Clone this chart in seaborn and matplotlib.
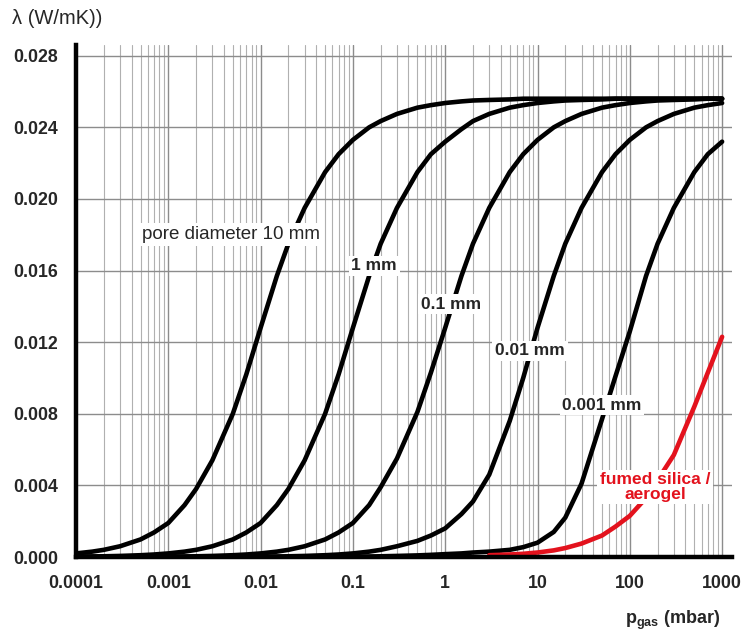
"""Gas thermal conductivity vs gas pressure for different pore diameters."""

import matplotlib
matplotlib.use("Agg")
import pandas as pd
import matplotlib.pyplot as plt
import seaborn as sns
from matplotlib.ticker import FixedLocator, FixedFormatter, LogLocator, NullFormatter

# pressure grid (mbar), shared by the pore-size curves
pressure_mbar = [
    0.0001, 0.00015, 0.0002, 0.0003, 0.0005, 0.0007,
    0.001, 0.0015, 0.002, 0.003, 0.005, 0.007,
    0.01, 0.015, 0.02, 0.03, 0.05, 0.07,
    0.1, 0.15, 0.2, 0.3, 0.5, 0.7,
    1, 1.5, 2, 3, 5, 7,
    10, 15, 20, 30, 50, 70,
    100, 150, 200, 300, 500, 700,
    1000,
]

# lambda (W/mK)
lam_d10mm = [
    0.0002, 0.0003, 0.0004, 0.0006, 0.00098, 0.00137,
    0.0019, 0.0029, 0.0038, 0.0054, 0.0080, 0.0102,
    0.0128, 0.0157, 0.0175, 0.0195, 0.0215, 0.0225,
    0.0233, 0.0240, 0.02435, 0.02475, 0.0251, 0.02524,
    0.02536, 0.02545, 0.0255, 0.02553, 0.02556, 0.0256,
    0.0256, 0.0256, 0.0256, 0.0256, 0.0256, 0.0256,
    0.0256, 0.0256, 0.0256, 0.0256, 0.0256, 0.0256,
    0.0256,
]
lam_d1mm = [
    0.00002, 0.00003, 0.00004, 0.00006, 0.0001, 0.00014,
    0.0002, 0.0003, 0.0004, 0.0006, 0.00098, 0.00137,
    0.0019, 0.0029, 0.0038, 0.0054, 0.0080, 0.0102,
    0.0128, 0.0157, 0.0175, 0.0195, 0.0215, 0.0225,
    0.0232, 0.0239, 0.02435, 0.02475, 0.0251, 0.02524,
    0.02536, 0.02545, 0.0255, 0.02553, 0.02556, 0.0256,
    0.0256, 0.0256, 0.0256, 0.0256, 0.0256, 0.0256,
    0.0256,
]
lam_d0_1mm = [
    0.0, 0.0, 0.0, 0.00001, 0.00001, 0.00001,
    0.00002, 0.00003, 0.00004, 0.00006, 0.0001, 0.00014,
    0.0002, 0.0003, 0.0004, 0.0006, 0.00098, 0.00137,
    0.0019, 0.0029, 0.0039, 0.0055, 0.0081, 0.0103,
    0.0128, 0.0157, 0.0175, 0.0195, 0.0215, 0.0225,
    0.0233, 0.0240, 0.02435, 0.02475, 0.0251, 0.02524,
    0.02536, 0.02545, 0.0255, 0.02553, 0.02556, 0.0256,
    0.0256,
]
lam_d0_01mm = [
    0.0, 0.0, 0.0, 0.0, 0.0, 0.0,
    0.0, 0.0, 0.0, 0.00001, 0.00001, 0.00001,
    0.00002, 0.00003, 0.00004, 0.00006, 0.0001, 0.00014,
    0.0002, 0.0003, 0.0004, 0.0006, 0.0009, 0.0012,
    0.0016, 0.0024, 0.0031, 0.0046, 0.0076, 0.0100,
    0.0128, 0.0157, 0.0175, 0.0195, 0.0215, 0.0225,
    0.0233, 0.0240, 0.02435, 0.02475, 0.0251, 0.02524,
    0.02536,
]
lam_d0_001mm = [
    0.0, 0.0, 0.0, 0.0, 0.0, 0.0,
    0.0, 0.0, 0.0, 0.0, 0.0, 0.0,
    0.0, 0.0, 0.0, 0.0, 0.00001, 0.00001,
    0.00002, 0.00003, 0.00004, 0.00006, 0.00009, 0.00012,
    0.00016, 0.0002, 0.00025, 0.0003, 0.0004, 0.00055,
    0.0008, 0.0014, 0.0022, 0.0041, 0.0077, 0.0101,
    0.0126, 0.0157, 0.0175, 0.0195, 0.0215, 0.0225,
    0.0232,
]

pressure_silica = [3, 5, 7, 10, 15, 20, 30, 50, 70, 100, 150, 200, 300, 500, 700, 1000]
lam_silica = [0.0001, 0.00014, 0.00018, 0.00025, 0.00037, 0.0005, 0.00075, 0.0012,
              0.0017, 0.0023, 0.0033, 0.0043, 0.0057, 0.0084, 0.0103, 0.0123]

series_names = ["10 mm", "1 mm", "0.1 mm", "0.01 mm", "0.001 mm"]
series_values = [lam_d10mm, lam_d1mm, lam_d0_1mm, lam_d0_01mm, lam_d0_001mm]

x_ticks = [0.0001, 0.001, 0.01, 0.1, 1, 10, 100, 1000]
x_tick_labels = ["0.0001", "0.001", "0.01", "0.1", "1", "10", "100", "1000"]
y_ticks = [0.000, 0.004, 0.008, 0.012, 0.016, 0.020, 0.024, 0.028]
y_tick_labels = ["0.000", "0.004", "0.008", "0.012", "0.016", "0.020", "0.024", "0.028"]

sns.set_style("white")
plt.rcParams['font.family'] = ['Liberation Sans', 'DejaVu Sans']
plt.rcParams['mathtext.fontset'] = 'custom'
plt.rcParams['mathtext.bf'] = 'Liberation Sans:bold'
plt.rcParams['mathtext.rm'] = 'Liberation Sans'

RED = "#e3121d"

fig = plt.figure(figsize=(7.41, 6.34), dpi=100)
ax = fig.add_axes([76 / 741, 1 - 557 / 634, (732 - 76) / 741, (557 - 45) / 634])

df = pd.concat(
    [pd.DataFrame({"p": pressure_mbar, "lam": vals, "pore": name})
     for name, vals in zip(series_names, series_values)],
    ignore_index=True,
)
sns.lineplot(data=df, x="p", y="lam", hue="pore", palette=["black"] * 5,
             linewidth=3.3, legend=False, estimator=None, ax=ax, zorder=3,
             solid_joinstyle="round")

silica_df = pd.DataFrame({"p": pressure_silica, "lam": lam_silica})
sns.lineplot(data=silica_df, x="p", y="lam", color=RED, linewidth=3.3,
             estimator=None, ax=ax, zorder=3, solid_joinstyle="round")

ax.set_xscale("log")
ax.set_xlim(0.0001, 1280)
ax.set_ylim(0, 0.0286)

ax.xaxis.set_major_locator(FixedLocator(x_ticks))
ax.xaxis.set_major_formatter(FixedFormatter(x_tick_labels))
ax.xaxis.set_minor_locator(LogLocator(base=10, subs=range(2, 10), numticks=30))
ax.xaxis.set_minor_formatter(NullFormatter())
ax.yaxis.set_major_locator(FixedLocator(y_ticks))
ax.yaxis.set_major_formatter(FixedFormatter(y_tick_labels))

# grid
ax.grid(which="major", axis="both", color="#8c8c8c", linewidth=1.0, zorder=0)
ax.grid(which="minor", axis="x", color="#b0b0b0", linewidth=0.8, zorder=0)
ax.set_axisbelow(True)

for side in ["top", "right"]:
    ax.spines[side].set_visible(False)
for side in ["left", "bottom"]:
    ax.spines[side].set_linewidth(3.2)
    ax.spines[side].set_color("black")
    ax.spines[side].set_zorder(4)

ax.tick_params(which="major", length=9, width=1, color="#555555", pad=4)
ax.tick_params(which="minor", length=0)
for lbl in ax.get_xticklabels() + ax.get_yticklabels():
    lbl.set_fontweight("bold")
    lbl.set_fontsize(12.8)

ax.set_xlabel("")
ax.set_ylabel("")

# curve labels (white boxes hide lines and grid behind them)
box = dict(facecolor="white", edgecolor="none", pad=2.0)
ax.text(0.00477, 0.0180, "pore diameter 10 mm", ha="center", va="center",
        fontsize=13.5, bbox=box, zorder=5)
ax.text(0.170, 0.01626, "1 mm", ha="center", va="center", fontsize=12.5,
        fontweight="bold", bbox=box, zorder=5)
ax.text(1.156, 0.01413, "0.1 mm", ha="center", va="center", fontsize=12.5,
        fontweight="bold", bbox=box, zorder=5)
ax.text(8.3, 0.01151, "0.01 mm", ha="center", va="center", fontsize=12.5,
        fontweight="bold", bbox=box, zorder=5)
ax.text(50, 0.00849, "0.001 mm", ha="center", va="center", fontsize=12.5,
        fontweight="bold", bbox=box, zorder=5)
ax.text(187, 0.00391, "fumed silica /\naerogel", ha="center", va="center",
        fontsize=12.5, fontweight="bold", color=RED, linespacing=0.95,
        bbox=box, zorder=5)

fig.text(0.016, 0.9716, "λ (W/mK))", ha="left", va="center", fontsize=14.5)
fig.text(0.972, 0.0215, r"$\mathbf{p_{gas}}$" + " (mbar)", ha="right", va="center",
         fontsize=13, fontweight="bold")

fig.savefig("out.png", dpi=100)
